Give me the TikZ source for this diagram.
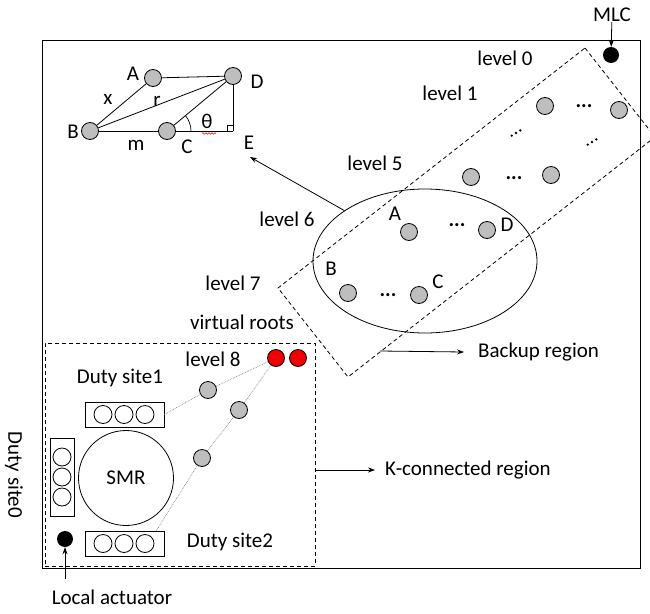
\documentclass[tikz,border=0pt]{standalone}
\usepackage{fontspec}
\setmainfont{Carlito}
\usetikzlibrary{arrows.meta,shapes.geometric,decorations.pathmorphing}
\definecolor{nodegray}{RGB}{190,190,190}
\definecolor{rootred}{RGB}{240,0,0}
\begin{document}
\begin{tikzpicture}[x=1pt,y=-1pt,
  every node/.style={font=\fontsize{21}{24}\selectfont, inner sep=0pt},
  sensor/.style={circle,draw,line width=0.8pt,fill=nodegray,minimum size=17pt},
  root/.style={circle,draw,line width=0.8pt,fill=rootred,minimum size=17pt},
  blackdot/.style={circle,fill=black,minimum size=16pt},
  slot/.style={circle,draw,line width=0.8pt,minimum size=18pt},
  rack/.style={rectangle,draw,line width=0.8pt},
  arr/.style={-{Stealth[length=7pt,width=5pt]},line width=0.8pt},
  region/.style={line width=0.8pt,dash pattern=on 4pt off 3pt},
  link/.style={draw=gray,line width=0.7pt,densely dotted},
  edge/.style={line width=0.8pt},
  dots/.style={font=\fontsize{21}{24}\selectfont\bfseries},
]
\useasboundingbox (0,0) rectangle (650,613);

% outer frame of the plant
\draw[line width=0.9pt] (42,40) rectangle (640,568);

% backup region (tilted dashed band)
\begin{scope}
  \clip (0,0) rectangle (650,613);
  \draw[region] (585,48) -- (655,137) -- (348,377) -- (278,288) -- cycle;
\end{scope}

% main level controller
\node (mlc) at (612,15) {MLC};
\node[blackdot] (mlcdot) at (611,55) {};
\draw[arr] (mlc) -- (mlcdot);

% level labels
\node (lv0) at (505,58) {level 0};
\node (lv1) at (450,93) {level 1};
\node (lv5) at (375,163) {level 5};
\node (lv6) at (287,219) {level 6};
\node (lv7) at (233,283) {level 7};
\node (vroots) at (242,322) {virtual roots};
\node (lv8) at (213,359) {level 8};

% level 1 and level 5 nodes
\node[sensor] (a1) at (545,106) {};
\node[sensor] (b1) at (619,110) {};
\node[dots] (d1) at (584,106) {...};
% slanted ellipses between the levels
\foreach \cx/\cy in {516/133, 592/142}
  \foreach \k in {-1,0,1}
    \fill ({\cx+4.3*\k},{\cy-2.6*\k}) circle[radius=1.3];
\node[sensor] (a5) at (471,177) {};
\node[sensor] (b5) at (551,175) {};
\node[dots] (d5) at (514,178) {...};

% cluster at levels 6 and 7
\node[draw,ellipse,line width=0.8pt,minimum width=224pt,minimum height=144pt] (cluster) at (425,261) {};
\node[sensor] (cA) at (409,232) {};
\node[sensor] (cD) at (487,230) {};
\node[sensor] (cB) at (348,293) {};
\node[sensor] (cC) at (419,295) {};
\node[dots] (d6) at (457,225) {...};
\node[dots] (d7) at (388,295) {...};
\node (lA) at (395,214) {A};
\node (lD) at (507,225) {D};
\node (lB) at (331,269) {B};
\node (lC) at (438,282) {C};

% detail of the cluster geometry
\node[sensor] (iA) at (153,78) {};
\node[sensor] (iD) at (233,76) {};
\node[sensor] (iB) at (90,131) {};
\node[sensor] (iC) at (167,131) {};
\coordinate (iE) at (233,131);
\draw[edge] (iA) -- (iD);
\draw[edge] (iB) -- (iA);
\draw[edge] (iB) -- (iD);
\draw[edge] (iB) -- (iC);
\draw[edge] (iC) -- (iE);
\draw[edge] (iD) -- (iE);
\draw[edge] (iC) -- (iD);
\draw[line width=0.6pt] (iE) ++(-6,0) -- ++(0,-6) -- ++(6,0);
\draw[line width=0.7pt] ([shift={(24,0)}]iC.center) arc[start angle=0,end angle=-40,radius=24];
\draw[rootred,line width=0.5pt,decorate,decoration={snake,amplitude=0.8pt,segment length=3pt}] (202,133.5) -- (216,133.5);
\node (tA) at (133,74) {A};
\node (tD) at (257,82) {D};
\node (tB) at (73,132) {B};
\node (tC) at (187,147) {C};
\node (tE) at (249,143) {E};
\node (tx) at (108,99) {x};
\node (tr) at (157,101) {r};
\node (tm) at (136,145) {m};
\node (tth) at (207,121) {θ};
\coordinate (etip) at (250,157);
\draw[arr] (cluster.148) -- (etip);

% backup region label
\node[anchor=west] (backup) at (478,352) {Backup region};
\coordinate (bstart) at (380,351);
\draw[arr] (bstart) -- ([xshift=-14pt]backup.west);

% k-connected region
\node[rack,region,minimum width=270pt,minimum height=223pt,anchor=north west] (kreg) at (45,343) {};
\node[anchor=west] (kconn) at (385,470) {K-connected region};
\draw[arr] (kreg.east |- kconn.west) -- ([xshift=-10pt]kconn.west);

% virtual roots and relays
\node[root] (r1) at (276,358) {};
\node[root] (r2) at (298,358) {};
\node[sensor] (g1) at (208,390) {};
\node[sensor] (g2) at (239,410) {};
\node[sensor] (g3) at (202,458) {};

% duty sites around the SMR
\node (ds1) at (120,378) {Duty site1};
\node[rack,minimum width=79pt,minimum height=25pt] (site1) at (124.5,414.5) {};
\node[slot] (s11) at (103,414.5) {};
\node[slot] (s12) at (124,414.5) {};
\node[slot] (s13) at (145,414.5) {};
\node[rack,minimum width=79pt,minimum height=25pt] (site2) at (124.5,543.5) {};
\node[slot] (s21) at (103,543.5) {};
\node[slot] (s22) at (124,543.5) {};
\node[slot] (s23) at (145,543.5) {};
\node (ds2) at (230,542) {Duty site2};
\node[rack,minimum width=24pt,minimum height=78pt] (site0) at (62,477) {};
\node[slot] (s01) at (62,457) {};
\node[slot] (s02) at (62,477) {};
\node[slot] (s03) at (62,497) {};
\node[rotate=-90] (ds0) at (14,475) {Duty site0};
\node[circle,draw,line width=0.8pt,minimum size=95pt] (smr) at (126,478) {SMR};

\draw[link] (site1.east) -- (g1) -- (r1);
\draw[link] ([xshift=-8pt]site2.north east) -- (g3) -- (g2) -- (r1);

% local actuator
\node[blackdot] (actuator) at (65,539) {};
\node (latext) at (112,597) {Local actuator};
\coordinate (lastart) at (65,579);
\draw[arr] (lastart) -- (actuator);
\end{tikzpicture}
\end{document}
